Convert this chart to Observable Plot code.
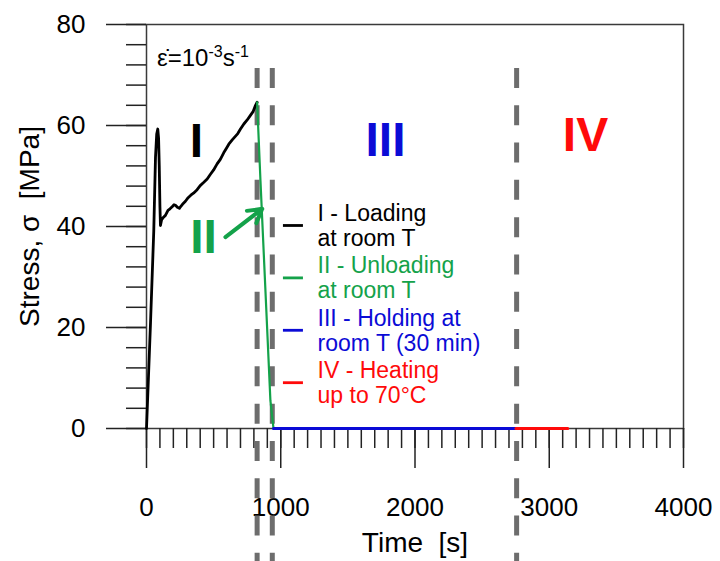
<!DOCTYPE html>
<html>
<head>
<meta charset="utf-8">
<script src="https://cdn.jsdelivr.net/npm/d3@7"></script>
<script src="https://cdn.jsdelivr.net/npm/@observablehq/plot@0.6"></script>
<style>
  body { margin: 0; background: #fff; }
  #chart svg { display: block; }
</style>
</head>
<body>
<div id="chart"></div>
<script>
// Stage I: loading at room temperature (time in s, stress in MPa)
const loadingTime   = [0, 30, 54, 67, 76, 84, 90, 95, 100, 104, 112, 125, 141, 160, 175, 191, 205, 216, 230, 245, 253, 268, 290, 310, 330, 350, 377, 400, 425, 452, 475, 500, 526, 550, 575, 600, 613, 640, 660, 680, 700, 725, 750, 774, 795, 812, 824];
const loadingStress = [0, 21, 39, 53.7, 58.3, 59.3, 57.5, 52, 44, 40.2, 41.3, 41.8, 42.2, 43.2, 43.5, 43.9, 44.3, 44.2, 43.8, 43.6, 43.9, 44.4, 45, 45.7, 46.2, 46.6, 47.3, 48.1, 48.7, 49.4, 50.3, 51.2, 52.4, 53.3, 54.6, 55.7, 56.3, 57.2, 57.8, 58.4, 59.3, 60.3, 61.1, 62.0, 62.8, 64.0, 64.6];

// Stage II: unloading
const unloadingTime   = [824, 849, 880, 923, 946];
const unloadingStress = [64.6, 49, 30.8, 5.5, 0];

// Stage III: holding at room temperature, Stage IV: heating
const holdingTime   = [946, 2752];
const holdingStress = [0, 0];
const heatingTime   = [2752, 3138];
const heatingStress = [0, 0];

// Stage boundaries (dashed markers)
const boundaryTimes = [824, 937, 2757];

// Axis ticks
const xMajorTicks = [0, 1000, 2000, 3000, 4000];
const xMinorTicks = d3.range(0, 4001, 100);
const yMajorTicks = [0, 20, 40, 60, 80];
const yMinorTicks = d3.range(0, 81, 4);

// Stage names and legend text
const stageNames   = ["I", "II", "III", "IV"];
const legendLabels = ["I - Loading\nat room T", "II - Unloading\nat room T", "III - Holding at\nroom T (30 min)", "IV - Heating\nup to 70°C"];

const black = "#000000", green = "#14a24a", blue = "#0b0bd6", red = "#ff0a0a";
const stageColors = [black, green, blue, red];

const toRows = (ts, ss) => ts.map((t, i) => ({t, s: ss[i]}));
const loading = toRows(loadingTime, loadingStress);
const unloading = toRows(unloadingTime, unloadingStress);
const holding = toRows(holdingTime, holdingStress);
const heating = toRows(heatingTime, heatingStress);

// Strain-rate annotation with superscript exponents
function rateLabel(index, {x, y}) {
  const t = d3.create("svg:text")
    .attr("x", x(82)).attr("y", y(71.7))
    .attr("text-anchor", "start")
    .attr("font-size", 24).attr("fill", "#000");
  t.append("tspan").text("ε\u0307=10");
  t.append("tspan").attr("dy", -9).attr("font-size", 16).text("-3");
  t.append("tspan").attr("dy", 9).attr("font-size", 24).text("s");
  t.append("tspan").attr("dy", -9).attr("font-size", 16).text("-1");
  return t.node();
}

const stagePos = [[372, 56.8], [425, 37.7], [1780, 57], [3270, 58]];

const chart = Plot.plot({
  width: 720,
  height: 561,
  marginLeft: 146,
  marginRight: 37,
  marginTop: 24,
  marginBottom: 133,
  x: {domain: [0, 4000]},
  y: {domain: [0, 80]},
  style: {fontFamily: "'Liberation Sans', Arial, sans-serif", background: "#fff", color: "#000"},
  marks: [
    Plot.frame({stroke: "#3a3a3a", strokeWidth: 1.5}),
    Plot.axisY({ticks: yMajorTicks, tickSize: 40, tickPadding: 21, fontSize: 26, tickFormat: "d", label: null, stroke: "#222", strokeWidth: 1.5}),
    Plot.axisY({ticks: yMinorTicks, tickSize: 20, tickFormat: () => "", label: null, stroke: "#222", strokeWidth: 1.5}),
    Plot.axisX({ticks: xMajorTicks, tickSize: 40, tickPadding: 29, fontSize: 26, tickFormat: "d", label: null, stroke: "#222", strokeWidth: 1.5}),
    Plot.axisX({ticks: xMinorTicks, tickSize: 20, tickFormat: () => "", label: null, stroke: "#222", strokeWidth: 1.5}),
    Plot.text(["Time \u00a0[s]"], {frameAnchor: "bottom", dy: 115, lineAnchor: "middle", fontSize: 28, fill: "#000"}),
    Plot.text(["Stress, σ \u00a0[MPa]"], {frameAnchor: "left", dx: -116, rotate: -90, textAnchor: "middle", lineAnchor: "middle", fontSize: 28, fill: "#000"}),

    // stage boundaries
    Plot.ruleX(boundaryTimes, {y1: 71.3, y2: -27, stroke: "#6d6d6d", strokeWidth: 5, strokeDasharray: "20,17.3"}),

    // stress history
    Plot.line(loading, {x: "t", y: "s", stroke: black, strokeWidth: 2.8}),
    Plot.line(unloading, {x: "t", y: "s", stroke: green, strokeWidth: 2.2}),
    Plot.line(holding, {x: "t", y: "s", stroke: blue, strokeWidth: 3}),
    Plot.line(heating, {x: "t", y: "s", stroke: red, strokeWidth: 3}),

    // stage numerals
    ...stageNames.map((name, i) => Plot.text([name], {
      x: stagePos[i][0], y: stagePos[i][1], fill: stageColors[i],
      fontSize: 48, fontWeight: "bold"
    })),
    Plot.arrow([0], {x1: 588, y1: 37.9, x2: 862, y2: 43.5, stroke: green, strokeWidth: 4, headLength: 14}),

    // legend
    ...legendLabels.map((label, i) => Plot.ruleY([0], {
      x1: 1020, x2: 1169, y: 40.2, dy: i * 52.4, stroke: stageColors[i], strokeWidth: 2.8
    })),
    ...legendLabels.map((label, i) => Plot.text([label], {
      x: 1274, y: 40.2, dy: i * 52.4, fill: stageColors[i], textAnchor: "start",
      fontSize: 23, lineHeight: 1.09
    })),

    rateLabel
  ]
});

document.getElementById("chart").append(chart);
</script>
</body>
</html>
